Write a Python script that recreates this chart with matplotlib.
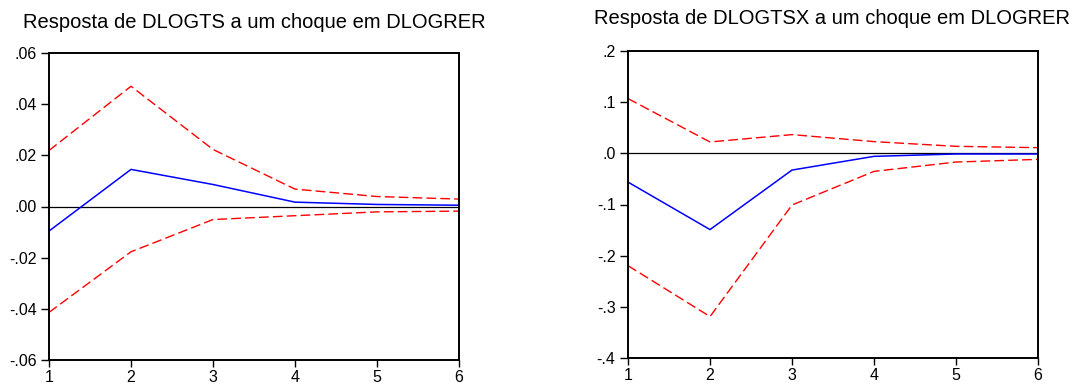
import matplotlib.pyplot as plt

plt.rcParams['font.family'] = ['Liberation Sans', 'DejaVu Sans']

periods = [1, 2, 3, 4, 5, 6]

# DLOGTS response
ts_resp = [-0.0096, 0.0145, 0.0086, 0.0017, 0.0008, 0.0005]
ts_upper = [0.0219, 0.0470, 0.0223, 0.0068, 0.0039, 0.0029]
ts_lower = [-0.0414, -0.0177, -0.0051, -0.0036, -0.0021, -0.0018]

# DLOGTSX response
tsx_resp = [-0.0562, -0.149, -0.0327, -0.0059, -0.0013, -0.0013]
tsx_upper = [0.107, 0.0222, 0.0366, 0.0229, 0.0137, 0.0111]
tsx_lower = [-0.2196, -0.319, -0.101, -0.0353, -0.017, -0.0118]

ts_ticks = [-0.06, -0.04, -0.02, 0.0, 0.02, 0.04, 0.06]
ts_labels = ['-.06', '-.04', '-.02', '.00', '.02', '.04', '.06']
tsx_ticks = [-0.4, -0.3, -0.2, -0.1, 0.0, 0.1, 0.2]
tsx_labels = ['-.4', '-.3', '-.2', '-.1', '.0', '.1', '.2']


def panel(ax, resp, upper, lower, ticks, labels, title, title_x, title_y):
    ax.axhline(0, color='black', lw=0.9, zorder=1)
    ax.plot(periods, upper, color='red', lw=1.0, ls=(0, (7, 3)))
    ax.plot(periods, lower, color='red', lw=1.0, ls=(0, (7, 3)))
    ax.plot(periods, resp, color='blue', lw=1.1)
    ax.set_xlim(1, 6)
    ax.set_ylim(ticks[0], ticks[-1])
    ax.set_xticks(periods)
    ax.set_yticks(ticks)
    ax.set_yticklabels(labels)
    ax.tick_params(axis='y', direction='out', length=6, width=1,
                   labelsize=11.5, pad=3)
    ax.tick_params(axis='x', direction='out', length=5, width=1,
                   labelsize=11.5, pad=2)
    for s in ax.spines.values():
        s.set_linewidth(1.4)
    fig.text(title_x, title_y, title, ha='center', va='center', fontsize=14.5)


fig = plt.figure(figsize=(10.76, 3.85), dpi=100)
W, H = 1076, 385
ax1 = fig.add_axes([49 / W, 1 - 360 / H, 410 / W, 307 / H])
ax2 = fig.add_axes([628 / W, 1 - 358 / H, 410 / W, 307 / H])

panel(ax1, ts_resp, ts_upper, ts_lower, ts_ticks, ts_labels,
      'Resposta de DLOGTS a um choque em DLOGRER', 254 / W, 1 - 22 / H)
panel(ax2, tsx_resp, tsx_upper, tsx_lower, tsx_ticks, tsx_labels,
      'Resposta de DLOGTSX a um choque em DLOGRER', 832 / W, 1 - 18.5 / H)

fig.savefig('out.png', dpi=100)
